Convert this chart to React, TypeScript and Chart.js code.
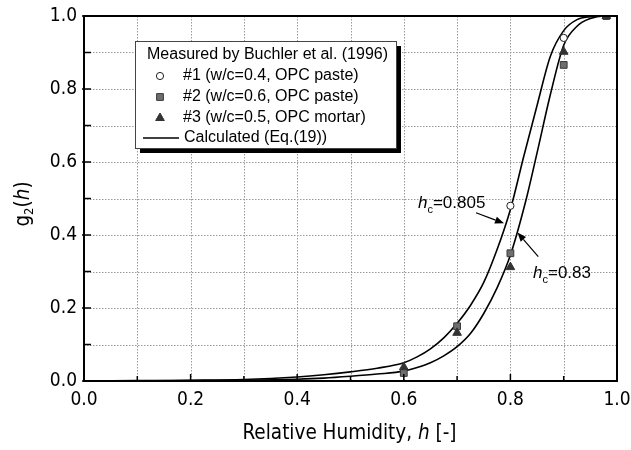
import React, { useEffect, useRef } from "react";
import { Chart, registerables } from "chart.js";
Chart.register(...registerables);

// ---- data ----
const hMeasured1 = [0.8, 0.9, 0.98];
const gMeasured1 = [0.48, 0.94, 1.0];
const hMeasured2 = [0.6, 0.7, 0.8, 0.9, 0.98];
const gMeasured2 = [0.022, 0.15, 0.35, 0.866, 1.0];
const hMeasured3 = [0.6, 0.7, 0.8, 0.9, 0.98];
const gMeasured3 = [0.038, 0.132, 0.312, 0.902, 1.0];

const hCalc805 = [0, 0.1, 0.2, 0.3, 0.4, 0.45, 0.5, 0.55, 0.6, 0.625, 0.65, 0.675, 0.7, 0.725, 0.75, 0.775, 0.8, 0.825, 0.85, 0.875, 0.9, 0.925, 0.95, 0.975, 1.0];
const gCalc805 = [0, 0.001, 0.002, 0.004, 0.011, 0.017, 0.025, 0.035, 0.05, 0.066, 0.088, 0.118, 0.158, 0.207, 0.27, 0.36, 0.47, 0.615, 0.755, 0.89, 0.96, 0.99, 0.998, 1.0, 1.0];
const hCalc83 = [0, 0.1, 0.2, 0.3, 0.4, 0.45, 0.5, 0.55, 0.6, 0.625, 0.65, 0.675, 0.7, 0.725, 0.75, 0.775, 0.8, 0.83, 0.85, 0.875, 0.9, 0.925, 0.95, 0.975, 1.0];
const gCalc83 = [0, 0, 0.001, 0.002, 0.005, 0.008, 0.013, 0.019, 0.027, 0.037, 0.05, 0.069, 0.094, 0.13, 0.185, 0.255, 0.345, 0.5, 0.625, 0.785, 0.92, 0.972, 0.993, 1.0, 1.0];

const legendHeader = "Measured by Buchler et al. (1996)";
const legendLabels = ["#1 (w/c=0.4, OPC paste)", "#2 (w/c=0.6, OPC paste)", "#3 (w/c=0.5, OPC mortar)", "Calculated (Eq.(19))"];

const annotationLabels = ["0.805", "0.83"];
const annotationTextPos = [[0.6266, 0.474], [0.8424, 0.281]];
const annotationArrows = [[0.7355, 0.461, 0.788, 0.432], [0.8523, 0.3405, 0.8133, 0.4068]];

const AXIS_FONT = "'DejaVu Sans Condensed', 'DejaVu Sans', sans-serif";
const SANS = "'Liberation Sans', Arial, sans-serif";

const toPts = (xs: number[], ys: number[]) => xs.map((x, i) => ({ x, y: ys[i] }));

type Piece = { t: string; f: string; dy?: number };
function drawPieces(ctx: CanvasRenderingContext2D, pieces: Piece[], x: number, y: number, align: "left" | "center") {
  let total = 0;
  for (const p of pieces) { ctx.font = p.f; total += ctx.measureText(p.t).width; }
  let cx = align === "center" ? x - total / 2 : x;
  ctx.textAlign = "left";
  for (const p of pieces) {
    ctx.font = p.f;
    ctx.fillText(p.t, cx, y + (p.dy || 0));
    cx += ctx.measureText(p.t).width;
  }
}

function marker(ctx: CanvasRenderingContext2D, kind: string, x: number, y: number) {
  ctx.save();
  ctx.lineWidth = 1;
  ctx.beginPath();
  if (kind === "circle") {
    ctx.arc(x, y, 3.6, 0, Math.PI * 2);
    ctx.fillStyle = "#fff"; ctx.strokeStyle = "#222";
  } else if (kind === "rect") {
    const s = 4.8 / Math.SQRT2;
    ctx.rect(x - s, y - s, 2 * s, 2 * s);
    ctx.fillStyle = "#6e6e6e"; ctx.strokeStyle = "#3a3a3a";
  } else {
    const r = 5;
    ctx.moveTo(x, y - r);
    ctx.lineTo(x + r * Math.sin((2 * Math.PI) / 3), y + r / 2);
    ctx.lineTo(x - r * Math.sin((2 * Math.PI) / 3), y + r / 2);
    ctx.closePath();
    ctx.fillStyle = "#333"; ctx.strokeStyle = "#333";
  }
  ctx.fill(); ctx.stroke();
  ctx.restore();
}

const framePlugin = {
  id: "frameGrid",
  beforeDatasetsDraw(chart: any) {
    const { ctx, chartArea: a, scales } = chart;
    const xs = scales.x, ys = scales.y;
    ctx.save();
    ctx.strokeStyle = "#9a9a9a";
    ctx.lineWidth = 1;
    ctx.setLineDash([1.5, 1.5]);
    for (const t of xs.ticks) {
      const px = Math.round(xs.getPixelForValue(t.value)) + 0.5;
      ctx.beginPath(); ctx.moveTo(px, a.top); ctx.lineTo(px, a.bottom); ctx.stroke();
    }
    for (const t of ys.ticks) {
      const py = Math.round(ys.getPixelForValue(t.value)) + 0.5;
      ctx.beginPath(); ctx.moveTo(a.left, py); ctx.lineTo(a.right, py); ctx.stroke();
    }
    ctx.restore();
  },
  afterDatasetsDraw(chart: any) {
    const { ctx, chartArea: a, scales } = chart;
    const xs = scales.x, ys = scales.y;
    ctx.save();
    ctx.strokeStyle = "#000";
    ctx.lineWidth = 2;
    ctx.setLineDash([]);
    ctx.strokeRect(a.left, a.top, a.right - a.left, a.bottom - a.top);
    ctx.lineWidth = 1.5;
    for (const t of xs.ticks) {
      const major = Math.round(t.value * 10) % 2 === 0;
      const px = xs.getPixelForValue(t.value);
      ctx.beginPath(); ctx.moveTo(px, a.bottom); ctx.lineTo(px, a.bottom - (major ? 7 : 5)); ctx.stroke();
    }
    for (const t of ys.ticks) {
      const major = Math.round(t.value * 10) % 2 === 0;
      const py = ys.getPixelForValue(t.value);
      ctx.beginPath(); ctx.moveTo(a.left - (major ? 2 : 0), py); ctx.lineTo(a.left + 7, py); ctx.stroke();
    }
    ctx.restore();
  },
  afterDraw(chart: any) {
    const { ctx, chartArea: a, scales } = chart;
    const xs = scales.x, ys = scales.y;
    ctx.save();
    ctx.fillStyle = "#000";
    ctx.textBaseline = "alphabetic";
    // axis titles
    const fR = `20.5px ${AXIS_FONT}`;
    const fI = `italic 20.5px ${AXIS_FONT}`;
    drawPieces(ctx, [{ t: "Relative Humidity, ", f: fR }, { t: "h", f: fI }, { t: " [-]", f: fR }], (a.left + a.right) / 2 - 1, 439, "center");
    ctx.save();
    ctx.translate(29, (a.top + a.bottom) / 2 + 5.5);
    ctx.rotate(-Math.PI / 2);
    drawPieces(ctx, [{ t: "g", f: fR }, { t: "2", f: `13px ${AXIS_FONT}`, dy: 4 }, { t: "(", f: fR }, { t: "h", f: fI }, { t: ")", f: fR }], 0, 0, "center");
    ctx.restore();

    // legend
    const x0 = a.left + 51, y0 = a.top + 25, w = 261, h = 107;
    ctx.fillStyle = "#000";
    ctx.fillRect(x0 + 5, y0 + 5, w, h);
    ctx.fillStyle = "#fff";
    ctx.fillRect(x0, y0, w, h);
    ctx.strokeStyle = "#444";
    ctx.lineWidth = 1;
    ctx.strokeRect(x0 + 0.5, y0 + 0.5, w, h);
    ctx.fillStyle = "#000";
    ctx.font = `16px ${SANS}`;
    ctx.textBaseline = "middle";
    ctx.textAlign = "left";
    const rows = [14, 35, 56, 77, 97];
    ctx.fillText(legendHeader, x0 + 12, y0 + rows[0]);
    const kinds = ["circle", "rect", "triangle"];
    for (let i = 0; i < 3; i++) {
      marker(ctx, kinds[i], x0 + 25, y0 + rows[i + 1]);
      ctx.fillStyle = "#000";
      ctx.fillText(legendLabels[i], x0 + 48, y0 + rows[i + 1]);
    }
    ctx.strokeStyle = "#000";
    ctx.lineWidth = 1.5;
    ctx.beginPath(); ctx.moveTo(x0 + 8, y0 + rows[4]); ctx.lineTo(x0 + 44, y0 + rows[4]); ctx.stroke();
    ctx.fillText(legendLabels[3], x0 + 49, y0 + rows[4]);

    // annotations
    ctx.textBaseline = "alphabetic";
    const fa = `17px ${SANS}`;
    for (let i = 0; i < annotationLabels.length; i++) {
      const [tx, ty] = annotationTextPos[i];
      drawPieces(ctx, [{ t: "h", f: `italic 17px ${SANS}` }, { t: "c", f: `11px ${SANS}`, dy: 5 }, { t: "=" + annotationLabels[i], f: fa }],
        xs.getPixelForValue(tx), ys.getPixelForValue(ty), "left");
      const [ax1, ay1, ax2, ay2] = annotationArrows[i];
      const X1 = xs.getPixelForValue(ax1), Y1 = ys.getPixelForValue(ay1);
      const X2 = xs.getPixelForValue(ax2), Y2 = ys.getPixelForValue(ay2);
      const ang = Math.atan2(Y2 - Y1, X2 - X1);
      const L = 9, W = 3.5;
      const bx = X2 - L * Math.cos(ang), by = Y2 - L * Math.sin(ang);
      ctx.strokeStyle = "#000";
      ctx.lineWidth = 1.2;
      ctx.beginPath(); ctx.moveTo(X1, Y1); ctx.lineTo(bx, by); ctx.stroke();
      ctx.beginPath();
      ctx.moveTo(X2, Y2);
      ctx.lineTo(bx + W * Math.sin(ang), by - W * Math.cos(ang));
      ctx.lineTo(bx - W * Math.sin(ang), by + W * Math.cos(ang));
      ctx.closePath();
      ctx.fillStyle = "#000";
      ctx.fill();
    }
    ctx.restore();
  },
};

const tickCb = (v: any) => (Math.round(Number(v) * 10) % 2 === 0 ? Number(v).toFixed(1) : "");

export default function App() {
  const ref = useRef<HTMLCanvasElement>(null);
  useEffect(() => {
    const chart = new Chart(ref.current as HTMLCanvasElement, {
      type: "scatter",
      data: {
        datasets: [
          { label: "#3", data: toPts(hMeasured3, gMeasured3), pointStyle: "triangle", pointRadius: 5, backgroundColor: "#333", borderColor: "#333", borderWidth: 1 },
          { label: "#2", data: toPts(hMeasured2, gMeasured2), pointStyle: "rect", pointRadius: 4.8, backgroundColor: "#6e6e6e", borderColor: "#3a3a3a", borderWidth: 1 },
          { label: "#1", data: toPts(hMeasured1, gMeasured1), pointStyle: "circle", pointRadius: 3.6, backgroundColor: "#fff", borderColor: "#222", borderWidth: 1 },
          { label: "hc=0.805", data: toPts(hCalc805, gCalc805), showLine: true, pointRadius: 0, borderColor: "#000", borderWidth: 1.6, cubicInterpolationMode: "monotone" },
          { label: "hc=0.83", data: toPts(hCalc83, gCalc83), showLine: true, pointRadius: 0, borderColor: "#000", borderWidth: 1.6, cubicInterpolationMode: "monotone" },
        ] as any,
      },
      options: {
        animation: false,
        responsive: false,
        devicePixelRatio: 1,
        layout: { padding: { top: 16, right: 14, left: 0, bottom: 0 } },
        plugins: { legend: { display: false }, tooltip: { enabled: false } },
        events: [],
        scales: {
          x: {
            type: "linear", min: 0, max: 1,
            grid: { display: false, drawTicks: false },
            border: { display: false },
            ticks: { stepSize: 0.1, autoSkip: false, maxRotation: 0, padding: 8, color: "#000", font: { family: AXIS_FONT, size: 19 }, callback: tickCb },
            afterFit: (s: any) => { s.height = 69; s.paddingLeft = 0; s.paddingRight = 0; },
          },
          y: {
            type: "linear", min: 0, max: 1,
            grid: { display: false, drawTicks: false },
            border: { display: false },
            ticks: { stepSize: 0.1, autoSkip: false, padding: 7, color: "#000", font: { family: AXIS_FONT, size: 19 }, callback: tickCb },
            afterFit: (s: any) => { s.width = 84; s.paddingTop = 0; s.paddingBottom = 0; },
          },
        },
      } as any,
      plugins: [framePlugin],
    });
    return () => chart.destroy();
  }, []);
  return (
    <div style={{ position: "absolute", left: 0, top: 0, width: 631, height: 450, background: "#fff" }}>
      <canvas ref={ref} width={631} height={450} style={{ display: "block", width: 631, height: 450 }} />
    </div>
  );
}
